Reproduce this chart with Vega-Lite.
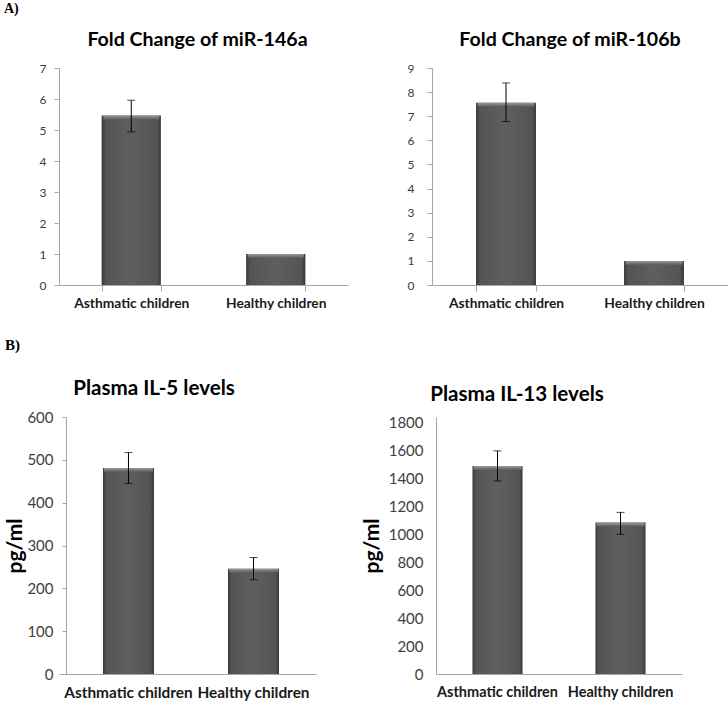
{
  "$schema": "https://vega.github.io/schema/vega-lite/v6.json",
  "background": "white",
  "padding": {"left": 4, "top": 2, "right": 0, "bottom": 0},
  "config": {
    "view": {"stroke": null},
    "font": "Lato",
    "axis": {"grid": false, "domainColor": "#a6a6a6", "tickColor": "#a6a6a6", "domainWidth": 1, "tickWidth": 1, "labelFont": "Lato", "titleFont": "Lato"}
  },
  "columns": 1,
  "align": "none",
  "spacing": 28,
  "concat": [
    {
      "title": {"text": "A)", "anchor": "start", "frame": "bounds", "font": "Liberation Serif", "fontSize": 14, "fontWeight": "bold", "color": "#000000", "offset": 14},
      "spacing": 59,
      "hconcat": [
        {
          "width": 289, "height": 217,
          "title": {"text": "Fold Change of miR-146a", "font": "Lato", "fontSize": 19.6, "fontWeight": "bold", "color": "#000000", "dx": -6, "offset": 11},
          "data": {"values": [
            {"group": "Asthmatic children", "value": 5.47, "lo": 4.94, "hi": 5.96},
            {"group": "Healthy children", "value": 1.0}
          ]},
          "encoding": {"x": {"field": "group", "type": "nominal", "sort": null, "title": null,
            "scale": {"paddingInner": 0.59, "paddingOuter": 0.295},
            "axis": {"tickBand": "extent", "tickSize": 6, "labelAngle": 0, "labelFontWeight": "bold", "labelFontSize": 13.8, "labelColor": "#1a1a1a", "labelPadding": 5}}},
          "layer": [
            {"mark": {"type": "bar", "color": {"gradient": "linear", "x1": 0, "x2": 1, "y1": 0, "y2": 0, "stops": [{"offset": 0, "color": "#383838"}, {"offset": 0.07, "color": "#545454"}, {"offset": 0.5, "color": "#5f5f5f"}, {"offset": 0.93, "color": "#545454"}, {"offset": 1, "color": "#383838"}]}},
             "encoding": {"y": {"field": "value", "type": "quantitative", "title": null, "scale": {"domain": [0, 7], "nice": false},
               "axis": {"values": [0, 1, 2, 3, 4, 5, 6, 7], "format": "d", "tickSize": 5, "labelFontSize": 12, "labelColor": "#404040", "labelPadding": 8, "minExtent": 55}}}},
            {"mark": {"type": "tick", "size": 56, "thickness": 4, "yOffset": 2, "opacity": 1, "color": {"gradient": "linear", "x1": 0, "x2": 0, "y1": 0, "y2": 1, "stops": [{"offset": 0, "color": "#9a9a9a"}, {"offset": 1, "color": "#5c5c5c"}]}},
             "encoding": {"y": {"field": "value", "type": "quantitative", "title": null,
               "axis": {"values": [0, 1, 2, 3, 4, 5, 6, 7], "format": "d", "tickSize": 5, "labelFontSize": 12, "labelColor": "#404040", "labelPadding": 8, "minExtent": 55}}}},
            {"transform": [{"filter": "isValid(datum.lo)"}],
             "mark": {"type": "errorbar", "color": "#000000", "thickness": 1, "ticks": {"size": 8, "thickness": 1, "color": "#000000"}},
             "encoding": {"y": {"field": "lo", "type": "quantitative", "title": null,
               "axis": {"values": [0, 1, 2, 3, 4, 5, 6, 7], "format": "d", "tickSize": 5, "labelFontSize": 12, "labelColor": "#404040", "labelPadding": 8, "minExtent": 55}}, "y2": {"field": "hi"}}}
          ]
        },
        {
          "width": 296, "height": 217,
          "title": {"text": "Fold Change of miR-106b", "font": "Lato", "fontSize": 19.6, "fontWeight": "bold", "color": "#000000", "dx": -10, "offset": 11},
          "data": {"values": [
            {"group": "Asthmatic children", "value": 7.56, "lo": 6.78, "hi": 8.38},
            {"group": "Healthy children", "value": 1.0}
          ]},
          "encoding": {"x": {"field": "group", "type": "nominal", "sort": null, "title": null,
            "scale": {"paddingInner": 0.595, "paddingOuter": 0.2975},
            "axis": {"tickBand": "extent", "tickSize": 6, "labelAngle": 0, "labelFontWeight": "bold", "labelFontSize": 13.8, "labelColor": "#1a1a1a", "labelPadding": 5}}},
          "layer": [
            {"mark": {"type": "bar", "color": {"gradient": "linear", "x1": 0, "x2": 1, "y1": 0, "y2": 0, "stops": [{"offset": 0, "color": "#383838"}, {"offset": 0.07, "color": "#545454"}, {"offset": 0.5, "color": "#5f5f5f"}, {"offset": 0.93, "color": "#545454"}, {"offset": 1, "color": "#383838"}]}},
             "encoding": {"y": {"field": "value", "type": "quantitative", "title": null, "scale": {"domain": [0, 9], "nice": false},
               "axis": {"values": [0, 1, 2, 3, 4, 5, 6, 7, 8, 9], "format": "d", "tickSize": 5, "labelFontSize": 12, "labelColor": "#404040", "labelPadding": 13}}}},
            {"mark": {"type": "tick", "size": 57, "thickness": 4, "yOffset": 2, "opacity": 1, "color": {"gradient": "linear", "x1": 0, "x2": 0, "y1": 0, "y2": 1, "stops": [{"offset": 0, "color": "#9a9a9a"}, {"offset": 1, "color": "#5c5c5c"}]}},
             "encoding": {"y": {"field": "value", "type": "quantitative", "title": null,
               "axis": {"values": [0, 1, 2, 3, 4, 5, 6, 7, 8, 9], "format": "d", "tickSize": 5, "labelFontSize": 12, "labelColor": "#404040", "labelPadding": 13}}}},
            {"transform": [{"filter": "isValid(datum.lo)"}],
             "mark": {"type": "errorbar", "color": "#000000", "thickness": 1, "ticks": {"size": 8, "thickness": 1, "color": "#000000"}},
             "encoding": {"y": {"field": "lo", "type": "quantitative", "title": null,
               "axis": {"values": [0, 1, 2, 3, 4, 5, 6, 7, 8, 9], "format": "d", "tickSize": 5, "labelFontSize": 12, "labelColor": "#404040", "labelPadding": 13}}, "y2": {"field": "hi"}}}
          ]
        }
      ]
    },
    {
      "title": {"text": "B)", "anchor": "start", "frame": "bounds", "font": "Liberation Serif", "fontSize": 15, "fontWeight": "bold", "color": "#000000", "offset": 26},
      "spacing": 45,
      "hconcat": [
        {
          "width": 257, "height": 257,
          "title": {"text": "Plasma IL-5 levels", "font": "Lato", "fontSize": 20.6, "fontWeight": "bold", "color": "#000000", "dx": -33.5, "offset": 10},
          "data": {"values": [
            {"group": "Asthmatic children", "value": 481, "lo": 445, "hi": 517},
            {"group": "Healthy children", "value": 246, "lo": 220, "hi": 272}
          ]},
          "encoding": {"x": {"field": "group", "type": "nominal", "sort": null, "title": null,
            "scale": {"paddingInner": 0.592, "paddingOuter": 0.324, "align": 0.543},
            "axis": {"ticks": false, "labelAngle": 0, "labelFontWeight": "bold", "labelFontSize": 15.4, "labelColor": "#1a1a1a", "labelPadding": 11}}},
          "layer": [
            {"mark": {"type": "bar", "color": {"gradient": "linear", "x1": 0, "x2": 1, "y1": 0, "y2": 0, "stops": [{"offset": 0, "color": "#383838"}, {"offset": 0.07, "color": "#545454"}, {"offset": 0.5, "color": "#5f5f5f"}, {"offset": 0.93, "color": "#545454"}, {"offset": 1, "color": "#383838"}]}},
             "encoding": {"y": {"field": "value", "type": "quantitative", "title": "pg/ml", "scale": {"domain": [0, 600], "nice": false},
               "axis": {"values": [0, 100, 200, 300, 400, 500, 600], "format": "d", "offset": -7, "tickSize": 4, "labelFontSize": 15, "labelColor": "#404040", "labelPadding": 9, "minExtent": 38, "titleFontSize": 21, "titleFontWeight": "bold", "titleColor": "#000000", "titlePadding": 1}}}},
            {"mark": {"type": "tick", "size": 49, "thickness": 4, "yOffset": 2, "opacity": 1, "color": {"gradient": "linear", "x1": 0, "x2": 0, "y1": 0, "y2": 1, "stops": [{"offset": 0, "color": "#9a9a9a"}, {"offset": 1, "color": "#5c5c5c"}]}},
             "encoding": {"y": {"field": "value", "type": "quantitative", "title": "pg/ml",
               "axis": {"values": [0, 100, 200, 300, 400, 500, 600], "format": "d", "offset": -7, "tickSize": 4, "labelFontSize": 15, "labelColor": "#404040", "labelPadding": 9, "minExtent": 38, "titleFontSize": 21, "titleFontWeight": "bold", "titleColor": "#000000", "titlePadding": 1}}}},
            {"mark": {"type": "errorbar", "color": "#000000", "thickness": 1, "ticks": {"size": 8, "thickness": 1, "color": "#000000"}},
             "encoding": {"y": {"field": "lo", "type": "quantitative", "title": "pg/ml",
               "axis": {"values": [0, 100, 200, 300, 400, 500, 600], "format": "d", "offset": -7, "tickSize": 4, "labelFontSize": 15, "labelColor": "#404040", "labelPadding": 9, "minExtent": 38, "titleFontSize": 21, "titleFontWeight": "bold", "titleColor": "#000000", "titlePadding": 1}}, "y2": {"field": "hi"}}}
          ]
        },
        {
          "width": 246, "height": 257,
          "title": {"text": "Plasma IL-13 levels", "font": "Lato", "fontSize": 20.6, "fontWeight": "bold", "color": "#000000", "dx": -42, "dy": 0, "offset": 10},
          "data": {"values": [
            {"group": "Asthmatic children", "value": 1492, "lo": 1384, "hi": 1600},
            {"group": "Healthy children", "value": 1086, "lo": 1001, "hi": 1159}
          ]},
          "encoding": {"x": {"field": "group", "type": "nominal", "sort": null, "title": null,
            "scale": {"paddingInner": 0.593, "paddingOuter": 0.2965},
            "axis": {"ticks": false, "labelAngle": 0, "labelFontWeight": "bold", "labelFontSize": 14.5, "labelColor": "#1a1a1a", "labelPadding": 11}}},
          "layer": [
            {"mark": {"type": "bar", "color": {"gradient": "linear", "x1": 0, "x2": 1, "y1": 0, "y2": 0, "stops": [{"offset": 0, "color": "#383838"}, {"offset": 0.07, "color": "#545454"}, {"offset": 0.5, "color": "#5f5f5f"}, {"offset": 0.93, "color": "#545454"}, {"offset": 1, "color": "#383838"}]}},
             "encoding": {"y": {"field": "value", "type": "quantitative", "title": "pg/ml", "scale": {"domain": [0, 1843], "nice": false},
               "axis": {"values": [0, 200, 400, 600, 800, 1000, 1200, 1400, 1600, 1800], "format": "d", "ticks": false, "labelFontSize": 15, "labelColor": "#404040", "labelPadding": 13, "titleFontSize": 21, "titleFontWeight": "bold", "titleColor": "#000000", "titlePadding": 6}}}},
            {"mark": {"type": "tick", "size": 48, "thickness": 4, "yOffset": 2, "opacity": 1, "color": {"gradient": "linear", "x1": 0, "x2": 0, "y1": 0, "y2": 1, "stops": [{"offset": 0, "color": "#9a9a9a"}, {"offset": 1, "color": "#5c5c5c"}]}},
             "encoding": {"y": {"field": "value", "type": "quantitative", "title": "pg/ml",
               "axis": {"values": [0, 200, 400, 600, 800, 1000, 1200, 1400, 1600, 1800], "format": "d", "ticks": false, "labelFontSize": 15, "labelColor": "#404040", "labelPadding": 13, "titleFontSize": 21, "titleFontWeight": "bold", "titleColor": "#000000", "titlePadding": 6}}}},
            {"mark": {"type": "errorbar", "color": "#000000", "thickness": 1, "ticks": {"size": 8, "thickness": 1, "color": "#000000"}},
             "encoding": {"y": {"field": "lo", "type": "quantitative", "title": "pg/ml",
               "axis": {"values": [0, 200, 400, 600, 800, 1000, 1200, 1400, 1600, 1800], "format": "d", "ticks": false, "labelFontSize": 15, "labelColor": "#404040", "labelPadding": 13, "titleFontSize": 21, "titleFontWeight": "bold", "titleColor": "#000000", "titlePadding": 6}}, "y2": {"field": "hi"}}}
          ]
        }
      ]
    }
  ]
}
